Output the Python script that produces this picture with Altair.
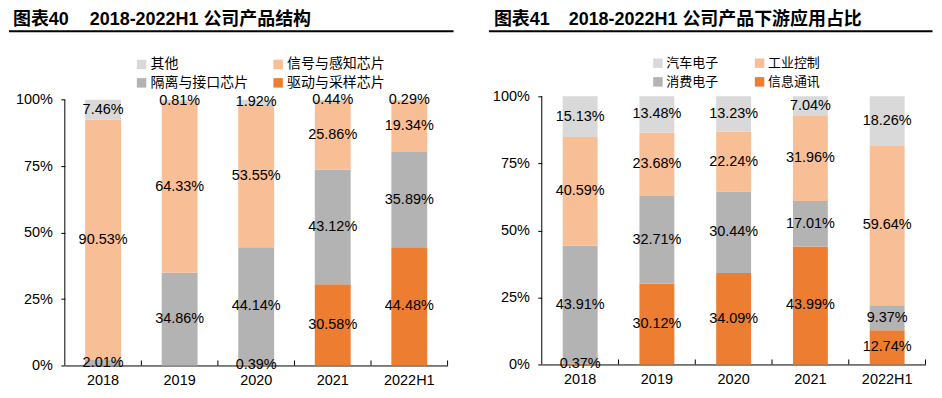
import altair as alt
import pandas as pd

FONT = "Liberation Sans, Arial, Noto Sans CJK SC, sans-serif"

years = ['2018', '2019', '2020', '2021', '2022H1']

# Left panel (产品结构), stacked bottom -> top
left_series = ['驱动与采样芯片', '隔离与接口芯片', '信号与感知芯片', '其他']
drive = [0.0, 0.0, 0.39, 30.58, 44.48]
isolate = [2.01, 34.86, 44.14, 43.12, 35.89]
signal = [90.53, 64.33, 53.55, 25.86, 19.34]
other = [7.46, 0.81, 1.92, 0.44, 0.29]

# Right panel (下游应用), stacked bottom -> top
right_series = ['信息通讯', '消费电子', '工业控制', '汽车电子']
telecom = [0.37, 30.12, 34.09, 43.99, 12.74]
consumer = [43.91, 32.71, 30.44, 17.01, 9.37]
industrial = [40.59, 23.68, 22.24, 31.96, 59.64]
auto = [15.13, 13.48, 13.23, 7.04, 18.26]

# legend order (filled column by column in a 2-column grid)
left_legend = ['其他', '隔离与接口芯片', '信号与感知芯片', '驱动与采样芯片']
right_legend = ['汽车电子', '消费电子', '工业控制', '信息通讯']
left_colors = ['#D9D9D9', '#B3B3B3', '#F8BE96', '#ED7D31']
right_colors = ['#D9D9D9', '#B3B3B3', '#F8BE96', '#ED7D31']

y_ticks = [0, 25, 50, 75, 100]


def build_table(series, values):
    rows = []
    for yi, yr in enumerate(years):
        base = 0.0
        for si, (name, vals) in enumerate(zip(series, values)):
            v = vals[yi]
            rows.append({'year': yr, 'series': name, 'order': si, 'value': v,
                         'y0': base, 'y1': base + v, 'mid': base + v / 2,
                         'label': f"{v:.2f}%"})
            base += v
    return pd.DataFrame(rows)


def panel(df, legend_domain, colors, W, H, ymax, bar_size, title_a, title_b,
          rule_x0, rule_x1, rule_top, rule_bot, title_y, ta_x, tb_x,
          leg_x, leg_y, leg_font, leg_colpad, leg_rowpad):
    xenc = alt.X('year:N', sort=years,
                 scale=alt.Scale(paddingInner=0, paddingOuter=0),
                 axis=alt.Axis(title=None, labelAngle=0, ticks=False,
                               domainColor='black', domainWidth=1,
                               labelFontSize=14.5, labelColor='black',
                               labelPadding=8, labelFont=FONT))
    yscale = alt.Scale(domain=[0, ymax], nice=False)
    bars = alt.Chart(df).mark_bar(size=bar_size).encode(
        x=xenc,
        y=alt.Y('y0:Q', scale=yscale,
                axis=alt.Axis(title=None, values=y_ticks,
                              labelExpr="datum.value + '%'",
                              tickSize=4, tickColor='black', domain=False,
                              labelFontSize=14.5, labelColor='black',
                              labelPadding=8.5, labelFont=FONT, grid=False,
                              labelFlush=False)),
        y2='y1:Q',
        color=alt.Color('series:N',
                        scale=alt.Scale(domain=legend_domain, range=colors),
                        legend=alt.Legend(orient='none', legendX=leg_x, legendY=leg_y,
                                          columns=2, title=None,
                                          symbolType='square', symbolSize=90,
                                          symbolStrokeWidth=0, symbolOpacity=1,
                                          labelFontSize=leg_font, labelFont=FONT,
                                          labelColor='black', labelOffset=2,
                                          columnPadding=leg_colpad,
                                          rowPadding=leg_rowpad, padding=0)),
    )
    labels = alt.Chart(df).transform_filter('datum.value > 0').mark_text(
        fontSize=14.5, font=FONT, color='black', baseline='middle').encode(
        x=alt.X('year:N', sort=years),
        y=alt.Y('mid:Q'),
        text='label:N',
    )
    yaxis_df = pd.DataFrame({'lo': [y_ticks[0]], 'hi': [y_ticks[-1]]})
    yline = alt.Chart(yaxis_df).mark_rule(color='black', strokeWidth=1).encode(
        x=alt.value(0), y='lo:Q', y2='hi:Q')
    tick_df = pd.DataFrame({'year': years})
    ticks = alt.Chart(tick_df).mark_rule(color='black', strokeWidth=1).encode(
        x=alt.X('year:N', sort=years, bandPosition=1),
        y=alt.value(H - 5),
        y2=alt.value(H),
    )
    hdr = pd.DataFrame({'a': [title_a], 'b': [title_b]})
    top_rule = alt.Chart(hdr).mark_rule(color='black', strokeWidth=1.5).encode(
        x=alt.value(rule_x0), x2=alt.value(rule_x1), y=alt.value(rule_top))
    bot_rule = alt.Chart(hdr).mark_rule(color='black', strokeWidth=2).encode(
        x=alt.value(rule_x0), x2=alt.value(rule_x1), y=alt.value(rule_bot))
    ta = alt.Chart(hdr).mark_text(fontSize=18, fontWeight='bold', font=FONT,
                                  color='black', align='left',
                                  baseline='middle').encode(
        x=alt.value(ta_x), y=alt.value(title_y), text='a:N')
    tb = alt.Chart(hdr).mark_text(fontSize=18, fontWeight='bold', font=FONT,
                                  color='black', align='left',
                                  baseline='middle').encode(
        x=alt.value(tb_x), y=alt.value(title_y), text='b:N')
    return alt.layer(bars, labels, yline, ticks, top_rule, bot_rule, ta, tb).properties(
        width=W, height=H)


left_df = build_table(left_series, [drive, isolate, signal, other])
right_df = build_table(right_series, [telecom, consumer, industrial, auto])

left = panel(left_df, left_legend, left_colors, 384, 270, 101.3, 36,
             '图表40', '2018-2022H1 公司产品结构',
             -56, 390, -91, -65.3, -77, -52, 25,
             70, -39, 14, 23, 4.5)
right = panel(right_df, right_legend, right_colors, 385, 269, 100, 35,
              '图表41', '2018-2022H1 公司产品下游应用占比',
              -53, 392, -91, -65.3, -76.5, -48, 27,
              110, -40, 13, 34, 5)

chart = alt.hconcat(left, right, spacing=33.5).resolve_scale(
    color='independent', x='independent', y='independent'
).properties(
    padding={'left': 0, 'top': -4, 'right': 0, 'bottom': 0}
).configure(font=FONT).configure_view(stroke=None)

chart.save("out.html", embed_options={"renderer": "svg", "actions": False})
